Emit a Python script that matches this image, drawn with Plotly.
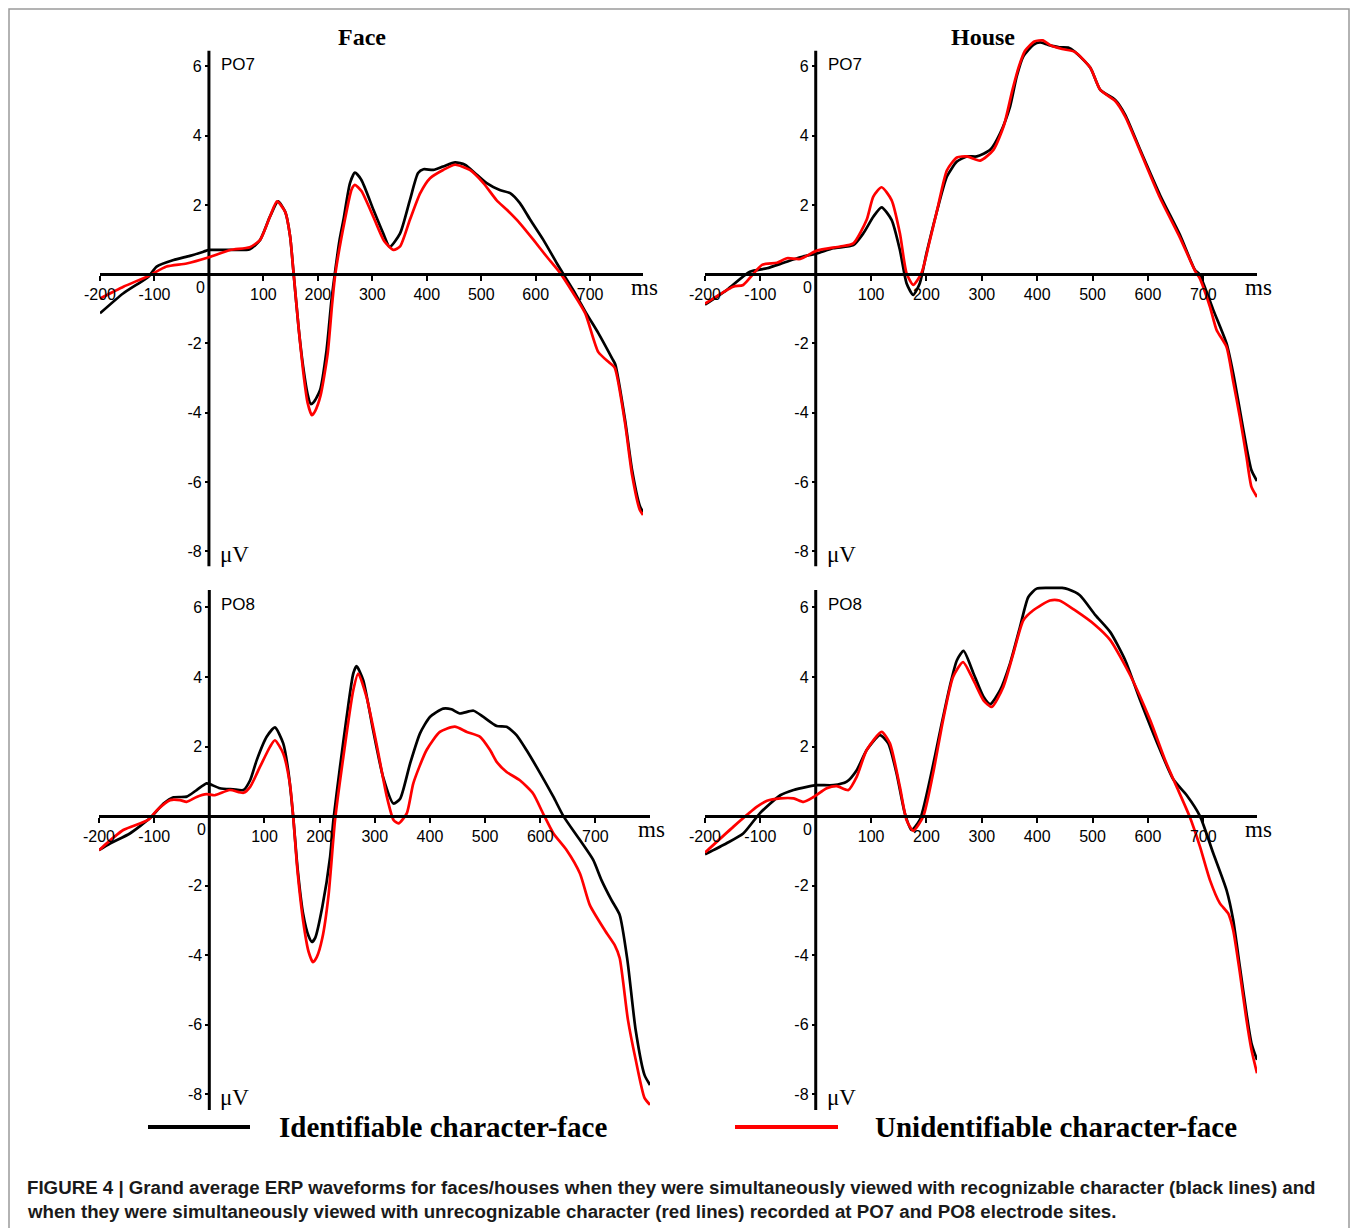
import plotly.graph_objects as go

W, H = 1358, 1228

# ---------------- data (ms, microvolts) ----------------
# Face PO7
face_po7_t_black = [-200,-157,-111,-96,-65,-35,-10,0,40,75,94,112,127,140,149,155,165,173,181,187,192,204,216,225,231,240,247,259,268,280,302,320,332,351,369,384,394,412,430,452,470,492,510,534,553,571,590,614,639,651,669,693,715,741,746,764,777,791,797]
face_po7_v_black = [-1.13,-0.55,-0.07,0.22,0.41,0.53,0.65,0.70,0.70,0.72,0.99,1.66,2.10,1.80,1.10,0.10,-1.60,-2.67,-3.45,-3.75,-3.70,-3.35,-2.19,-0.75,0.00,1.00,1.57,2.63,2.93,2.72,1.86,1.18,0.79,1.18,2.14,2.92,3.03,3.01,3.11,3.23,3.16,2.87,2.63,2.43,2.34,2.05,1.57,0.99,0.31,0.00,-0.46,-1.13,-1.70,-2.45,-2.60,-4.20,-5.66,-6.68,-6.87]
face_po7_t_red = [-200,-157,-111,-78,-41,0,39,75,94,112,125,140,149,155,165,173,181,189,195,205,218,226,232,250,262,268,280,302,322,339,351,369,388,406,430,452,479,504,528,547,571,596,620,645,669,691,715,735,745,764,777,791,797]
face_po7_v_red = [-0.70,-0.36,-0.05,0.22,0.31,0.49,0.70,0.78,0.99,1.66,2.10,1.80,1.10,0.10,-1.60,-2.80,-3.70,-4.07,-3.95,-3.50,-2.30,-0.90,0.00,1.60,2.45,2.58,2.40,1.65,0.95,0.70,0.80,1.57,2.34,2.77,3.01,3.16,3.01,2.63,2.14,1.86,1.47,0.99,0.51,0.03,-0.55,-1.13,-2.25,-2.55,-2.70,-4.30,-5.80,-6.80,-6.95]

# House PO7
house_po7_t_black = [-200,-161,-119,-88,-58,-28,2,32,68,86,104,119,137,152,164,176,188,200,218,237,255,273,291,315,333,351,363,375,393,405,420,440,456,468,496,514,541,559,586,622,658,685,693,718,742,754,766,778,787,797]
house_po7_v_black = [-0.88,-0.46,0.07,0.17,0.33,0.49,0.60,0.75,0.84,1.18,1.66,1.93,1.57,0.70,-0.26,-0.60,-0.26,0.60,1.76,2.82,3.25,3.40,3.40,3.59,4.07,4.84,5.71,6.29,6.62,6.69,6.62,6.55,6.54,6.42,5.96,5.32,5.03,4.60,3.59,2.28,1.13,0.12,0.00,-1.03,-2.00,-2.86,-3.92,-4.99,-5.66,-5.97]
house_po7_t_red = [-200,-149,-131,-97,-70,-52,-28,2,44,68,92,104,119,137,152,164,176,191,205,220,237,255,273,297,321,340,355,367,378,395,410,425,445,468,496,514,541,559,586,622,658,685,693,712,724,742,754,766,778,787,797]
house_po7_v_red = [-0.85,-0.36,-0.31,0.27,0.33,0.46,0.44,0.68,0.80,0.89,1.57,2.24,2.51,2.14,1.18,0.03,-0.31,0.03,0.90,1.90,3.00,3.37,3.40,3.28,3.59,4.30,5.30,6.00,6.45,6.72,6.75,6.60,6.50,6.42,5.96,5.32,5.00,4.55,3.55,2.20,1.05,0.10,-0.10,-0.94,-1.61,-2.10,-3.10,-4.12,-5.27,-6.14,-6.43]

# Face PO8
face_po8_t_black = [-200,-180,-144,-107,-83,-65,-41,-23,-5,1,19,43,62,74,86,104,119,134,143,152,160,170,180,186,192,205,219,225,237,249,261,267,279,297,315,334,346,364,382,400,424,439,454,479,497,521,539,557,575,600,624,642,672,696,711,729,744,758,773,789,799]
face_po8_v_black = [-0.98,-0.79,-0.50,-0.05,0.36,0.54,0.56,0.75,0.94,0.92,0.80,0.77,0.75,1.03,1.61,2.28,2.55,2.09,1.32,0.00,-1.50,-2.80,-3.45,-3.62,-3.50,-2.60,-1.17,-0.11,1.42,2.85,4.10,4.31,3.91,2.47,1.13,0.36,0.50,1.51,2.38,2.85,3.09,3.07,2.95,3.03,2.85,2.59,2.57,2.33,1.90,1.23,0.55,0.00,-0.69,-1.26,-1.84,-2.41,-2.84,-4.14,-6.15,-7.44,-7.73]
face_po8_t_red = [-200,-156,-111,-95,-71,-53,-41,-23,-5,10,37,62,74,92,110,119,134,146,152,160,170,180,188,195,205,216,228,243,261,270,285,303,322,334,343,358,370,394,418,445,467,491,509,521,539,563,587,605,624,648,672,690,717,735,744,759,773,789,799]
face_po8_v_red = [-0.98,-0.40,-0.11,0.17,0.46,0.46,0.41,0.55,0.63,0.60,0.75,0.67,0.84,1.42,1.99,2.18,1.80,0.94,0.00,-1.60,-3.00,-3.90,-4.20,-4.05,-3.50,-2.30,-0.11,1.70,3.62,4.10,3.43,2.09,0.55,-0.11,-0.21,0.08,0.95,1.90,2.42,2.57,2.42,2.28,1.90,1.56,1.27,1.03,0.65,0.08,-0.50,-0.98,-1.65,-2.56,-3.28,-3.71,-4.08,-5.86,-7.00,-8.10,-8.30]

# House PO8
house_po8_t_black = [-200,-161,-131,-101,-64,-40,-16,2,32,56,74,92,116,131,146,161,173,188,206,225,242,255,267,285,303,315,333,351,369,384,399,420,445,456,477,505,532,559,586,622,646,670,694,718,742,754,766,778,787,797]
house_po8_v_black = [-1.10,-0.78,-0.50,0.08,0.60,0.75,0.84,0.89,0.89,0.99,1.32,1.90,2.33,2.09,1.23,0.08,-0.40,-0.11,1.03,2.47,3.72,4.48,4.75,4.10,3.43,3.22,3.62,4.39,5.44,6.30,6.54,6.56,6.56,6.52,6.35,5.78,5.29,4.48,3.33,1.90,1.05,0.60,0.00,-1.07,-2.13,-2.99,-4.33,-5.67,-6.53,-7.01]
house_po8_t_red = [-200,-149,-106,-88,-64,-40,-22,-4,20,38,59,74,92,119,134,152,164,176,194,212,230,248,266,285,303,318,339,357,375,393,423,440,468,505,532,568,604,631,652,675,694,712,730,745,754,766,778,787,797]
house_po8_v_red = [-1.05,-0.31,0.27,0.44,0.51,0.51,0.41,0.55,0.80,0.86,0.75,1.13,1.90,2.42,2.09,0.84,-0.11,-0.42,-0.02,1.23,2.76,4.00,4.43,3.90,3.33,3.14,3.72,4.68,5.63,5.92,6.20,6.20,5.92,5.49,5.06,4.05,2.76,1.61,0.84,0.00,-0.88,-1.84,-2.51,-2.80,-3.28,-4.50,-5.86,-6.72,-7.39]

x_tick_vals = [-200, -100, 100, 200, 300, 400, 500, 600, 700]
y_tick_vals = [-8, -6, -4, -2, 2, 4, 6]
column_titles = ["Face", "House"]
electrodes = ["PO7", "PO8"]
legend_labels = ["Identifiable character-face", "Unidentifiable character-face"]
caption_lines = [
    "FIGURE 4 | Grand average ERP waveforms for faces/houses when they were simultaneously viewed with recognizable character (black lines) and",
    "when they were simultaneously viewed with unrecognizable character (red lines) recorded at PO7 and PO8 electrode sites.",
]

# ---------------- layout helpers ----------------
def px(x):
    return x / W

def py(y):
    return 1 - y / H

Y_LO, Y_HI = -8.6, 7.3   # plotting range (axis line drawn shorter)

panels = [
    dict(t_b=face_po7_t_black, v_b=face_po7_v_black, t_r=face_po7_t_red, v_r=face_po7_v_red,
         xpx=(100, 643), xr=(-200, 797), zy=274.2, ky=34.64, yline=(-8.43, 6.45), el=electrodes[0]),
    dict(t_b=house_po7_t_black, v_b=house_po7_v_black, t_r=house_po7_t_red, v_r=house_po7_v_red,
         xpx=(705, 1257), xr=(-200, 797), zy=274.2, ky=34.64, yline=(-8.43, 6.45), el=electrodes[0]),
    dict(t_b=face_po8_t_black, v_b=face_po8_v_black, t_r=face_po8_t_red, v_r=face_po8_v_red,
         xpx=(99, 650), xr=(-200, 799), zy=816.1, ky=34.78, yline=(-8.45, 6.5), el=electrodes[1]),
    dict(t_b=house_po8_t_black, v_b=house_po8_v_black, t_r=house_po8_t_red, v_r=house_po8_v_red,
         xpx=(705, 1257), xr=(-200, 797), zy=816.1, ky=34.78, yline=(-8.45, 6.5), el=electrodes[1]),
]

fig = go.Figure()
layout = dict(
    template="none",
    width=W, height=H, margin=dict(l=0, r=0, t=0, b=0, autoexpand=False),
    paper_bgcolor="white", plot_bgcolor="rgba(0,0,0,0)", showlegend=False,
)
annotations = []
shapes = []

sans = "Liberation Sans, Arial, sans-serif"
serif = "Liberation Serif, Times New Roman, serif"

for i, p in enumerate(panels):
    n = i + 1
    sfx = "" if n == 1 else str(n)
    xa, ya = "x" + sfx, "y" + sfx
    x0p, x1p = p["xpx"]
    zy, ky = p["zy"], p["ky"]
    zx = x0p + (0 - p["xr"][0]) / (p["xr"][1] - p["xr"][0]) * (x1p - x0p)
    top_px = zy - Y_HI * ky
    bot_px = zy - Y_LO * ky
    layout["xaxis" + sfx] = dict(
        domain=[px(x0p), px(x1p)], range=list(p["xr"]), anchor="free", position=py(zy),
        showline=True, linecolor="black", linewidth=3, showgrid=False, zeroline=False,
        ticks="outside", ticklen=5, tickwidth=2, tickcolor="black", automargin=False,
        tickvals=x_tick_vals, ticktext=[str(v) for v in x_tick_vals],
        tickfont=dict(family=sans, size=16, color="black"), fixedrange=True,
    )
    layout["yaxis" + sfx] = dict(
        domain=[py(bot_px), py(top_px)], range=[Y_LO, Y_HI], anchor="free", position=px(zx),
        showline=False, showgrid=False, zeroline=False, automargin=False,
        ticks="outside", ticklen=4, tickwidth=2, tickcolor="black",
        tickvals=y_tick_vals, ticktext=[str(v) for v in y_tick_vals],
        tickfont=dict(family=sans, size=16, color="black"), fixedrange=True,
    )
    shapes.append(dict(type="line", xref=xa, yref=ya, x0=0, x1=0, y0=p["yline"][0], y1=p["yline"][1],
                       line=dict(color="black", width=3), layer="below"))
    fig.add_trace(go.Scatter(x=p["t_b"], y=p["v_b"], xaxis=xa, yaxis=ya, mode="lines",
                             line=dict(color="black", width=2.7, shape="spline", smoothing=0.6),
                             name=legend_labels[0]))
    fig.add_trace(go.Scatter(x=p["t_r"], y=p["v_r"], xaxis=xa, yaxis=ya, mode="lines",
                             line=dict(color="#ff0000", width=2.7, shape="spline", smoothing=0.6),
                             name=legend_labels[1]))
    y_top_line = zy - p["yline"][1] * ky
    y_bot_line = zy - p["yline"][0] * ky
    annotations.append(dict(x=px(zx - 8), y=py(zy + 13), xref="paper", yref="paper", text="0",
                            showarrow=False, xanchor="center", yanchor="middle",
                            font=dict(family=sans, size=16, color="black")))
    annotations.append(dict(x=px(zx + 10), y=py(y_top_line + 14), xref="paper", yref="paper", text=p["el"],
                            showarrow=False, xanchor="left", yanchor="middle",
                            font=dict(family=sans, size=17, color="black")))
    annotations.append(dict(x=px(x1p - 14), y=py(zy + 13), xref="paper", yref="paper", text="ms",
                            showarrow=False, xanchor="left", yanchor="middle",
                            font=dict(family=serif, size=23, color="black")))
    annotations.append(dict(x=px(zx + 9), y=py(y_bot_line - 12), xref="paper", yref="paper", text="\u03bcV",
                            showarrow=False, xanchor="left", yanchor="middle",
                            font=dict(family=serif, size=23, color="black")))

for cx, t in zip([362, 983], column_titles):
    annotations.append(dict(x=px(cx), y=py(37), xref="paper", yref="paper", text=f"<b>{t}</b>",
                            showarrow=False, xanchor="center", yanchor="middle",
                            font=dict(family=serif, size=24, color="black")))

for (lx0, lx1, tx), col, lab in zip([(148, 250, 277), (735, 838, 873)], ["black", "#ff0000"], legend_labels):
    shapes.append(dict(type="line", xref="paper", yref="paper", x0=px(lx0), x1=px(lx1),
                       y0=py(1127), y1=py(1127), line=dict(color=col, width=4)))
    annotations.append(dict(x=px(tx), y=py(1127), xref="paper", yref="paper", text=f"<b>{lab}</b>",
                            showarrow=False, xanchor="left", yanchor="middle",
                            font=dict(family=serif, size=29, color="black")))

for yy, line in zip([1187, 1211], caption_lines):
    annotations.append(dict(x=px(25), y=py(yy), xref="paper", yref="paper", text=f"<b>{line}</b>",
                            showarrow=False, xanchor="left", yanchor="middle",
                            font=dict(family=sans, size=18.7, color="#1a1a1a")))

# outer frame (bottom edge lies below the visible page)
shapes.append(dict(type="rect", xref="paper", yref="paper", x0=px(9), x1=px(1349), y0=py(1240), y1=py(9),
                   line=dict(color="#9a9a9a", width=1.5)))

layout["annotations"] = annotations
layout["shapes"] = shapes
fig.update_layout(**layout)
fig.write_html(
    "out.html",
    config={"displayModeBar": False, "staticPlot": True},
    post_script="document.body.style.margin='0';document.documentElement.style.overflow='hidden';document.body.style.overflow='hidden';",
)
